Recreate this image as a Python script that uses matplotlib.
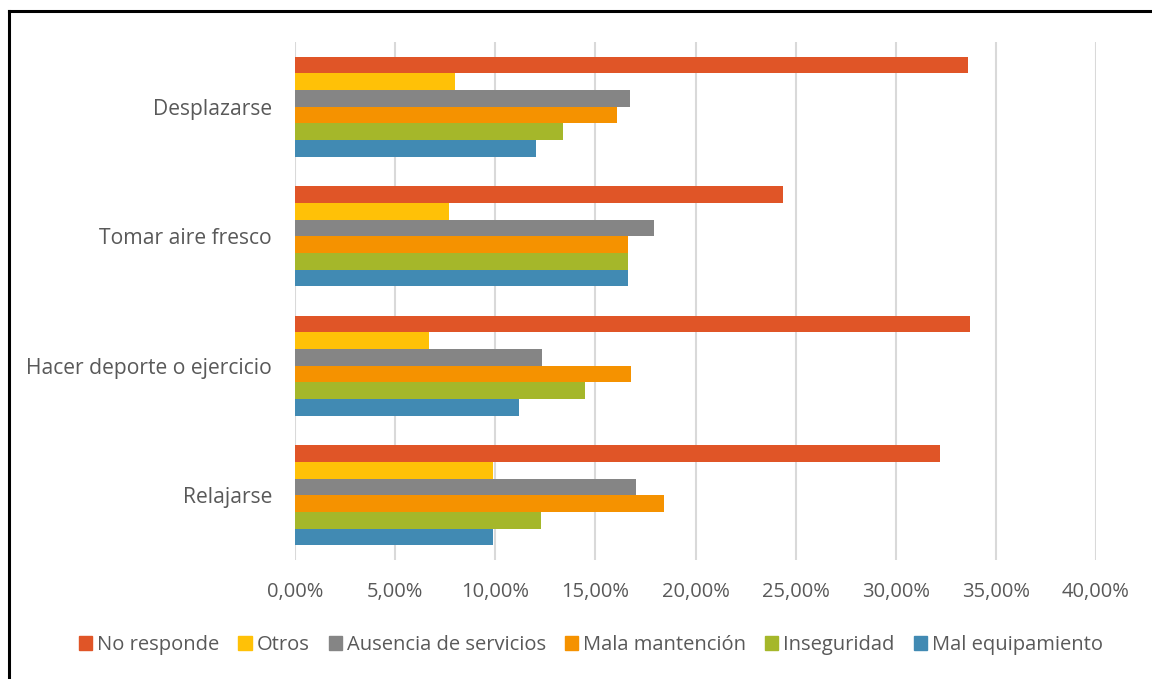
import matplotlib
matplotlib.use("Agg")
import matplotlib.pyplot as plt
from matplotlib.lines import Line2D
from matplotlib.ticker import FuncFormatter
import numpy as np

plt.rcParams['font.family'] = ['Open Sans', 'DejaVu Sans']

categories = ["Desplazarse", "Tomar aire fresco", "Hacer deporte o ejercicio", "Relajarse"]
series_names = ["No responde", "Otros", "Ausencia de servicios", "Mala mantención",
                "Inseguridad", "Mal equipamiento"]
colors = ["#E05527", "#FFC107", "#858585", "#F59200", "#A5B72A", "#418AB3"]

no_responde = [33.6, 24.35, 33.7, 32.2]
otros = [8.0, 7.7, 6.7, 9.9]
ausencia = [16.75, 17.95, 12.35, 17.05]
mala = [16.1, 16.65, 16.8, 18.45]
inseguridad = [13.4, 16.65, 14.5, 12.3]
mal_equip = [12.05, 16.65, 11.2, 9.9]
values = [no_responde, otros, ausencia, mala, inseguridad, mal_equip]

xticks = [0, 5, 10, 15, 20, 25, 30, 35, 40]

W, H = 1152, 679
fig = plt.figure(figsize=(W / 100, H / 100), dpi=100)
ax = fig.add_axes([295 / W, 1 - 560 / H, (1096 - 295) / W, (560 - 42) / H])

n = len(series_names)
bh = 0.1285
y_centers = np.arange(len(categories))
for i, (name, vals, c) in enumerate(zip(series_names, values, colors)):
    offs = (i - (n - 1) / 2) * bh
    ax.barh(y_centers + offs, vals, height=bh, color=c, label=name, zorder=3)

ax.set_ylim(len(categories) - 0.5, -0.5)
ax.set_xlim(0, 40)
ax.set_xticks(xticks)
ax.xaxis.set_major_formatter(FuncFormatter(lambda v, p: f"{v:.2f}%".replace(".", ",")))
ax.set_yticks(y_centers)
ax.set_yticklabels(categories)
ax.grid(axis='x', color='#d9d9d9', linewidth=1.5, zorder=0)
ax.grid(axis='y', visible=False)
for s in ax.spines.values():
    s.set_visible(False)
ax.tick_params(axis='x', length=0, labelsize=14.5, labelcolor='#595959', pad=16)
ax.tick_params(axis='y', length=0, labelsize=15.2, labelcolor='#595959', pad=16.5)
for lbl in ax.get_yticklabels():
    lbl.set_y(lbl.get_position()[1])

handles = [plt.Rectangle((0, 0), 1, 1, color=c) for c in colors]
fig.legend(handles, series_names, loc='center', bbox_to_anchor=(591 / W, 1 - 645 / H),
           ncol=6, frameon=False, fontsize=14.5, labelcolor='#595959',
           handlelength=0.65, handleheight=0.65, handletextpad=0.25, columnspacing=0.95)

fig.add_artist(Line2D([9 / W, 9 / W], [0, 1 - 11 / H], color='black', linewidth=2.2,
                      transform=fig.transFigure))
fig.add_artist(Line2D([9 / W, 1], [1 - 11 / H, 1 - 11 / H], color='black', linewidth=2.2,
                      transform=fig.transFigure))

fig.savefig("out.png", dpi=100)
